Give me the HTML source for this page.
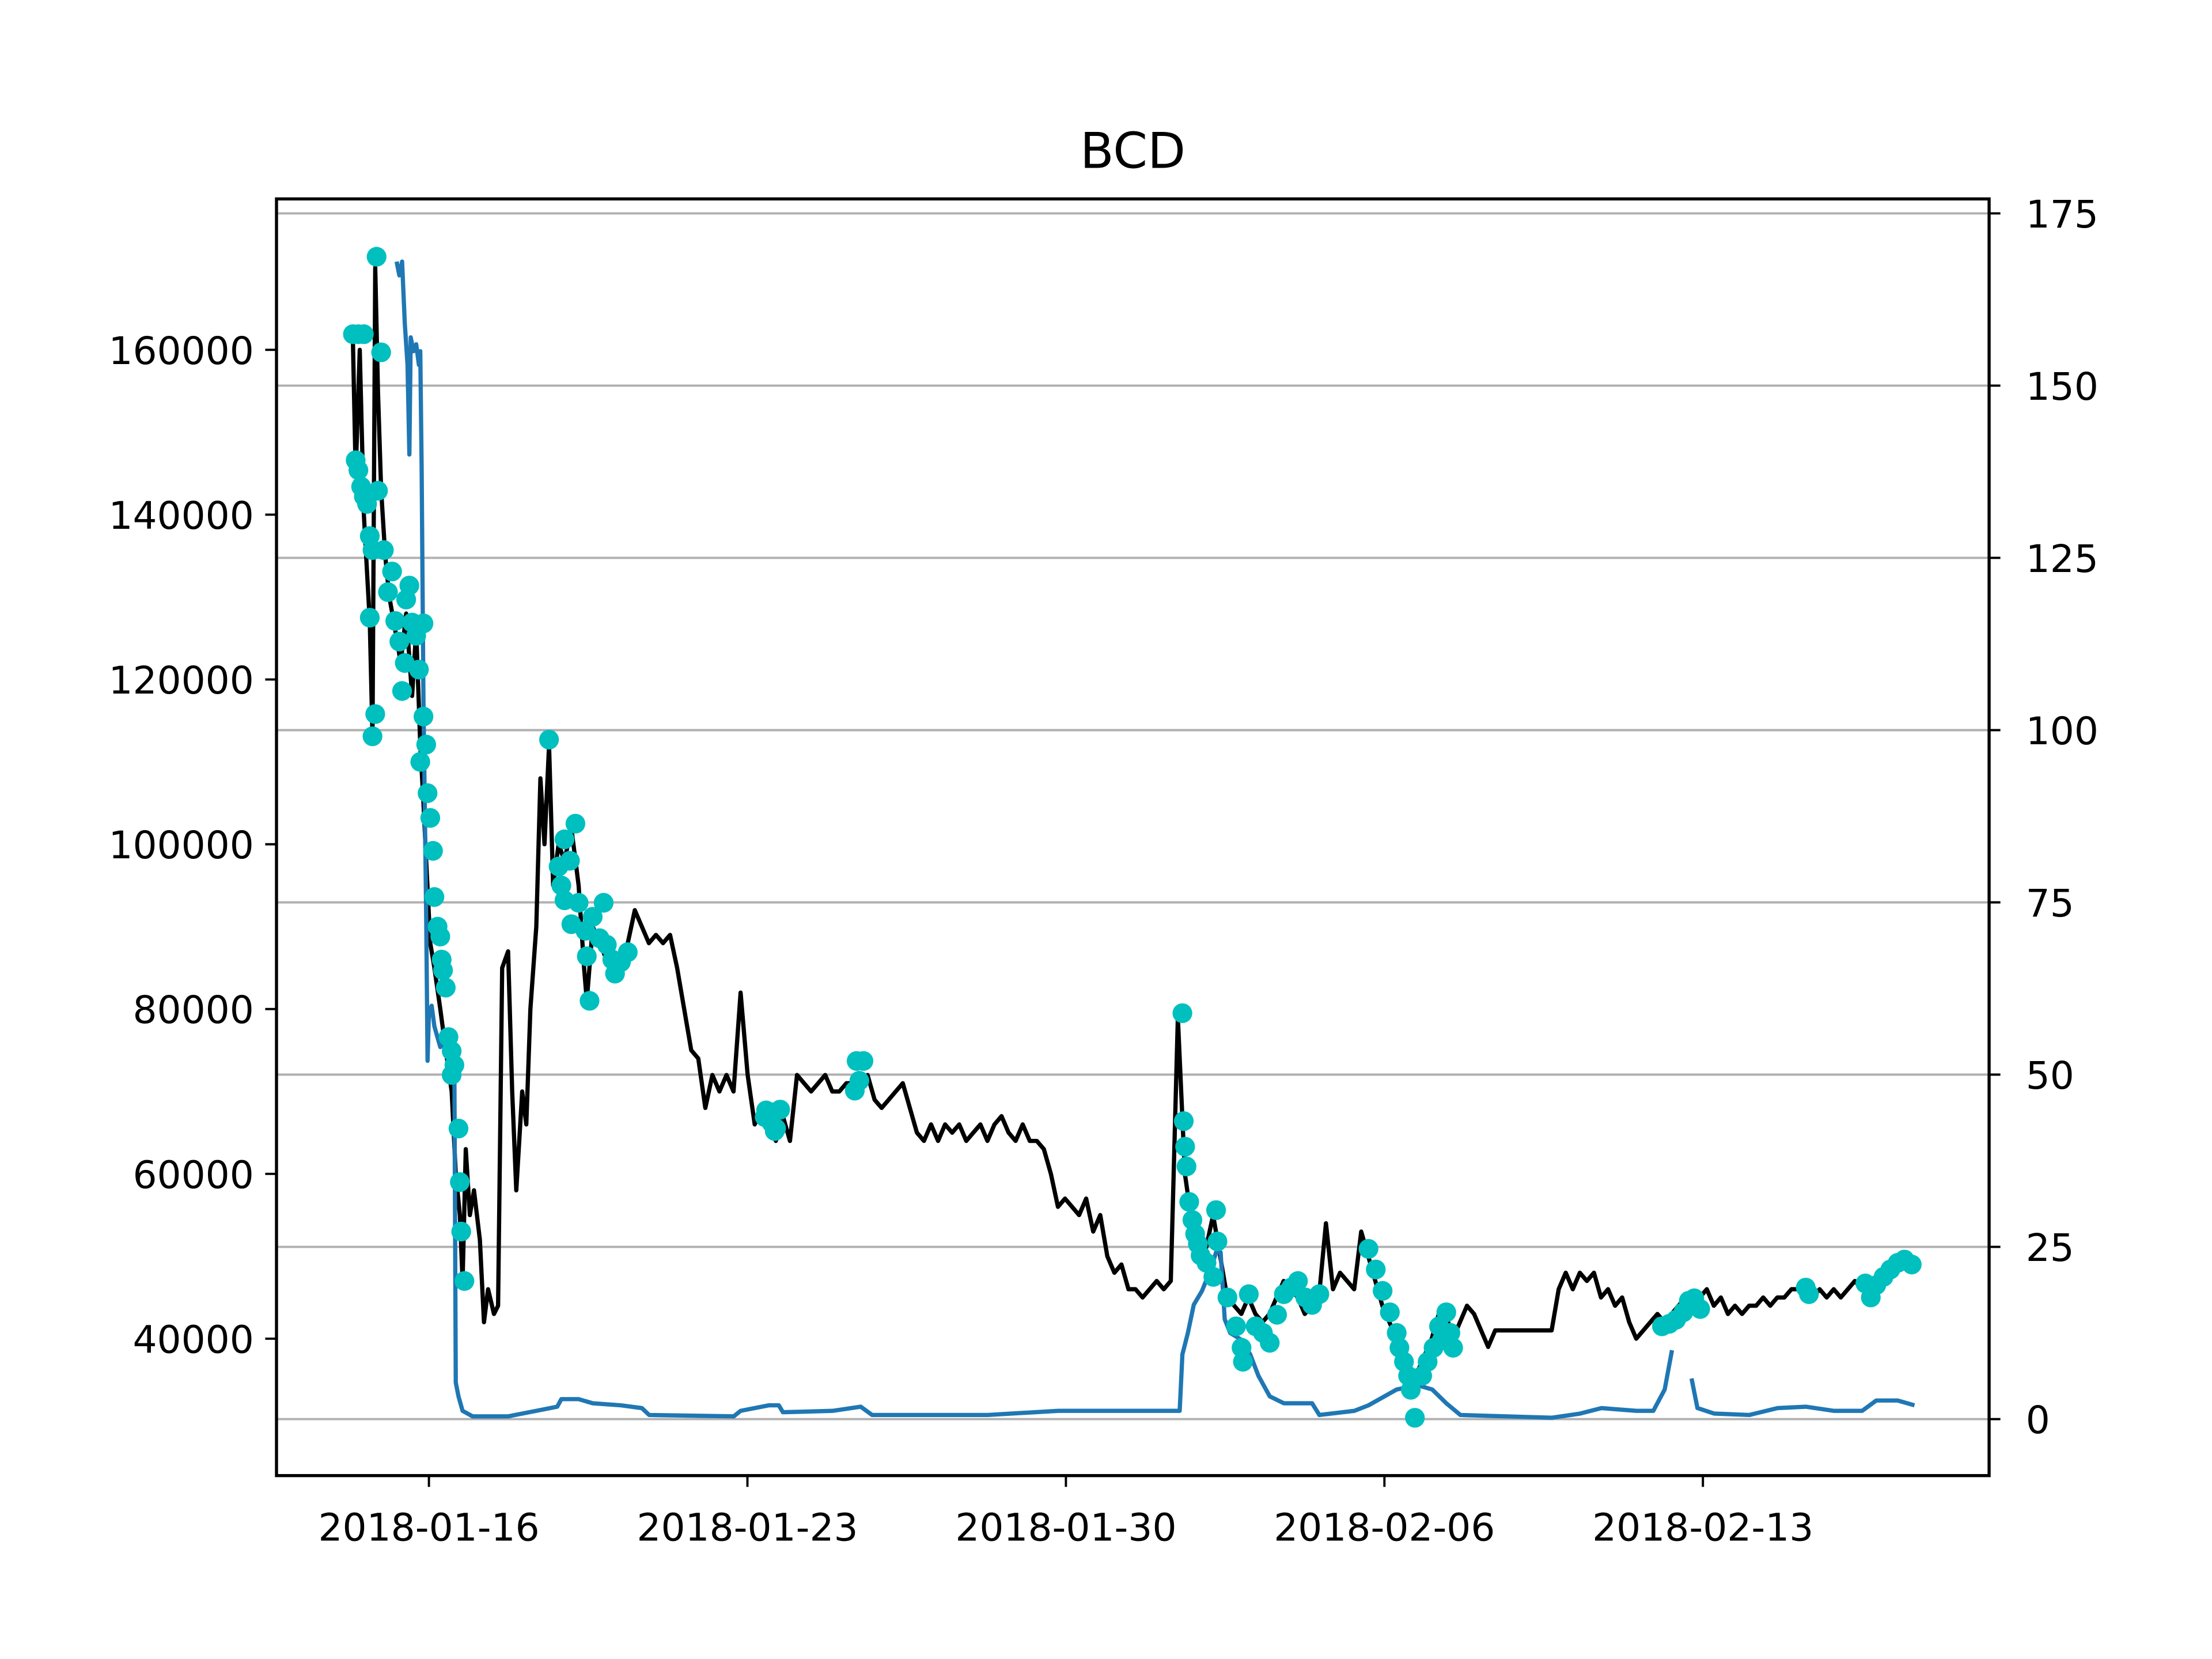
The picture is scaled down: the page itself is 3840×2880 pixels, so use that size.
<!DOCTYPE html>
<html><head><meta charset="utf-8"><style>
html,body{margin:0;padding:0;background:#fff;}
svg{display:block;}
text{font-family:"DejaVu Sans","Liberation Sans",sans-serif;fill:#000;}
</style></head><body>
<svg id="chart" xmlns="http://www.w3.org/2000/svg" width="3840" height="2880" viewBox="0 0 1568 1176" preserveAspectRatio="none">
<rect x="0" y="0" width="1568" height="1176" fill="#fff"/>
<text x="803" y="119" font-size="35" text-anchor="middle">BCD</text>
<g id="grid"></g>
<g id="plot"></g>
<g id="axes"></g>
</svg>
<script>
// ---- data ----
const xTickLabels = ["2018-01-16","2018-01-23","2018-01-30","2018-02-06","2018-02-13"];
const xTickDays = [0,7,14,21,28];
const leftTicks = [40000,60000,80000,100000,120000,140000,160000];
const rightTicks = [0,25,50,75,100,125,150,175];

const priceHeadDays = [-1.67,-1.61,-1.52,-1.43,-1.30,-1.24,-1.18,-1.12,-1.05,-0.96,-0.87,-0.74,-0.62,-0.50,-0.37,-0.28,-0.19,-0.12,-0.06,0.03,0.12,0.25,0.37,0.50,0.59,0.68,0.74,0.81,0.90,0.99,1.12,1.21,1.30,1.43,1.52,1.61,1.74,1.83,1.92,2.05,2.14,2.23,2.36,2.45,2.54,2.64,2.73,2.85,2.98,3.13,3.29,3.41,3.47,3.60];
const priceHeadK = [161,145,160,140,127,113,170,155,143,135,130,126,122,128,118,126,112,105,98,88,85,80,75,70,60,55,47,63,55,58,52,42,46,43,44,85,87,70,58,70,66,80,90,108,100,112,95,100,98,102,95,85,81,90];
const priceTailStartDay = 3.75;
const priceTailStepDays = 0.155;
const priceTailK = [88,86,85,86,88,92,90,88,89,88,89,85,80,75,74,68,72,70,72,70,82,72,66,68,66,64,67,64,72,71,70,71,72,70,70,71,71,70,72,69,68,69,70,71,68,65,64,66,64,66,65,66,64,65,66,64,66,67,65,64,66,64,64,63,60,56,57,56,55,57,53,55,50,48,49,46,46,45,46,47,46,47,79,60,54,52,51,55,50,45,44,43,45,43,42,43,45,47,46,45,43,44,45,54,46,48,47,46,53,50,47,44,42,40,37,35,36,38,40,43,43,40,42,44,43,41,39,41,41,41,41,41,41,41,41,41,46,48,46,48,47,48,45,46,44,45,42,40,41,42,43,42,43,44,45,44,45,46,44,45,43,44,43,44,44,45,44,45,45,46,46,45,45,46,45,46,45,46,47,46,46,47,48,48,49,49,49];

const dotDays = [-1.67,-1.55,-1.43,-1.61,-1.55,-1.49,-1.43,-1.36,-1.30,-1.24,-1.30,-1.24,-1.18,-1.15,-1.05,-1.12,-0.99,-0.90,-0.81,-0.74,-0.65,-0.59,-0.50,-0.43,-0.53,-0.37,-0.28,-0.22,-0.12,-0.06,-0.12,-0.19,-0.03,0.03,0.09,0.12,0.19,0.25,0.28,0.31,0.37,0.43,0.50,0.56,0.50,0.65,0.68,0.71,0.78,
 2.64,2.91,2.98,3.10,3.22,2.85,2.98,3.13,3.29,3.44,3.47,3.53,3.60,3.75,3.84,3.91,4.03,4.09,4.22,4.37,
 7.38,7.41,7.50,7.53,7.60,7.63,7.72,
 9.36,9.40,9.46,9.55,
 16.56,16.59,16.62,16.65,16.71,16.78,16.84,16.90,16.96,17.09,17.24,17.30,17.33,17.55,17.74,17.86,17.89,18.02,18.17,18.33,18.48,18.64,18.79,18.95,19.10,19.26,19.41,19.57,
 20.65,20.81,20.96,21.12,21.27,21.33,21.43,21.52,21.58,21.67,21.83,21.95,22.08,22.20,22.36,22.26,22.45,22.51,
 27.10,27.26,27.41,27.57,27.69,27.81,27.94,
 30.26,30.33,
 31.57,31.69,31.81,31.97,32.12,32.28,32.43,32.59];
const dotK = [161.9,161.9,161.9,146.6,145.4,143.4,142.2,141.3,137.4,135.7,127.5,113.1,115.8,171.3,159.7,142.9,135.7,130.6,133.1,127.1,124.6,118.6,129.7,131.4,122,126.9,125.3,121.2,115.5,112.1,126.8,110,106.2,103.2,99.2,93.6,90,88.8,86,84.7,82.6,76.6,74.9,73.2,72,65.5,59,53,47,
 112.7,95,100.6,98,102.5,97.3,93.2,90.3,92.9,89.5,86.4,81,91.2,88.6,92.9,87.8,86,84.3,85.7,86.9,
 66.9,67.7,67.5,66.2,65.2,65.5,67.8,
 70.1,73.7,71.3,73.7,
 79.5,66.4,63.3,60.9,56.6,54.4,52.7,51.5,50.1,49.2,47.5,55.6,51.8,45,41.5,38.9,37.2,45.4,41.5,40.7,39.5,42.9,45.4,46.2,47,45,44.1,45.4,
 50.9,48.4,45.8,43.2,40.7,38.9,37.2,35.5,33.8,30.4,35.5,37.2,38.9,41.5,43.2,39.8,40.7,38.9,
 41.5,41.8,42.3,43.2,44.6,44.9,43.6,
 46.2,45.4,
 46.7,45,46.5,47.5,48.4,49.2,49.6,49];

const blueDays = [-0.71,-0.65,-0.59,-0.53,-0.47,-0.43,-0.40,-0.34,-0.28,-0.22,-0.19,-0.16,-0.12,-0.06,-0.03,0,0.06,0.12,0.25,0.37,0.50,0.56,0.59,0.65,0.74,0.96,1.74,2.36,2.82,2.91,3.29,3.60,4.22,4.68,4.84,6.70,6.85,7.47,7.69,7.78,8.87,9.49,9.74,12.28,13.83,16.31,16.50,16.56,16.68,16.81,16.99,17.18,17.30,17.40,17.49,17.61,17.86,18.05,18.23,18.48,18.79,19.41,19.57,20.34,20.65,21.27,21.74,22.05,22.36,22.67,24.68,25.30,25.77,26.54,26.91,27.16,27.32,27.5,27.75,27.88,28.25,29.02,29.64,30.26,30.88,31.50,31.81,32.28,32.65];
const blueVals = [168,166,168,159,153,140,157,155,156,153,155,138,104,73,52,59,60,57,54,55,53,50,5.3,3.3,1.2,0.4,0.4,1.2,1.8,2.9,2.9,2.3,2,1.6,0.6,0.4,1.2,2,2,1,1.2,1.8,0.6,0.6,1.2,1.2,1.2,9.4,12.5,16.6,18.6,21.7,24.2,24.2,14.5,12.5,11.5,9.4,6.3,3.3,2.3,2.3,0.6,1.2,2,4.3,4.9,4.3,2.3,0.6,0.2,0.8,1.6,1.2,1.2,4.3,10,null,5.9,1.6,0.8,0.6,1.6,1.8,1.2,1.2,2.7,2.7,2];

// ---- scales ----
const L=196,R=1410,T=141,B=1046;
const dayMin=-3.35, dayMax=34.29;
const yLmin=23382, yLmax=178318;
const yRmin=-8.2, yRmax=177.1;
const xs=d=>L+(d-dayMin)/(dayMax-dayMin)*(R-L);
const yl=v=>B-(v-yLmin)/(yLmax-yLmin)*(B-T);
const yr=v=>B-(v-yRmin)/(yRmax-yRmin)*(B-T);
const NS="http://www.w3.org/2000/svg";
function mk(tag,attrs,parent){const e=document.createElementNS(NS,tag);for(const k in attrs)e.setAttribute(k,attrs[k]);parent.appendChild(e);return e;}
const grid=document.getElementById('grid'),plot=document.getElementById('plot'),axes=document.getElementById('axes');

rightTicks.forEach(v=>{
  const g=mk('line',{x1:L,x2:R,y1:yr(v),y2:yr(v),stroke:'#b0b0b0','stroke-width':1.6},grid);
  
  
});

const pDays=priceHeadDays.slice(), pVals=priceHeadK.map(v=>v*1000);
priceTailK.forEach((v,i)=>{pDays.push(priceTailStartDay+i*priceTailStepDays);pVals.push(v*1000);});
let d='';pDays.forEach((t,i)=>{d+=(i?'L':'M')+xs(t).toFixed(2)+' '+yl(pVals[i]).toFixed(2);});
const pl=mk('path',{d:d,fill:'none',stroke:'#000','stroke-width':3,'stroke-linejoin':'round'},plot);



let bd='',pen=false;
blueDays.forEach((t,i)=>{const v=blueVals[i];if(v===null){pen=false;return;}bd+=(pen?'L':'M')+xs(t).toFixed(2)+' '+yr(v).toFixed(2);pen=true;});
const bl=mk('path',{d:bd,fill:'none',stroke:'#1f77b4','stroke-width':3,'stroke-linejoin':'round'},plot);



dotDays.forEach((t,i)=>{
  const c=mk('circle',{cx:xs(t),cy:yl(dotK[i]*1000),r:7,fill:'#00bfbf'},plot);
  
  
});

const fr=mk('rect',{x:L,y:T,width:R-L,height:B-T,fill:'none',stroke:'#000','stroke-width':2.2},axes);



xTickDays.forEach((t,i)=>{
  const x=xs(t);
  mk('line',{x1:x,x2:x,y1:B,y2:B+8,stroke:'#000','stroke-width':1.6},axes);
  const tx=mk('text',{x:x,y:B+46,'font-size':27,'text-anchor':'middle'},axes);
  tx.textContent=xTickLabels[i];
  
  
});
leftTicks.forEach(v=>{
  const y=yl(v);
  mk('line',{x1:L-8,x2:L,y1:y,y2:y,stroke:'#000','stroke-width':1.6},axes);
  const tx=mk('text',{x:L-16,y:y+10,'font-size':27,'text-anchor':'end'},axes);
  tx.textContent=String(v);
  
  
});
rightTicks.forEach(v=>{
  const y=yr(v);
  mk('line',{x1:R,x2:R+8,y1:y,y2:y,stroke:'#000','stroke-width':1.6},axes);
  const tx=mk('text',{x:R+26,y:y+10,'font-size':27,'text-anchor':'start'},axes);
  tx.textContent=String(v);
  
  
});
</script>
</body></html>
